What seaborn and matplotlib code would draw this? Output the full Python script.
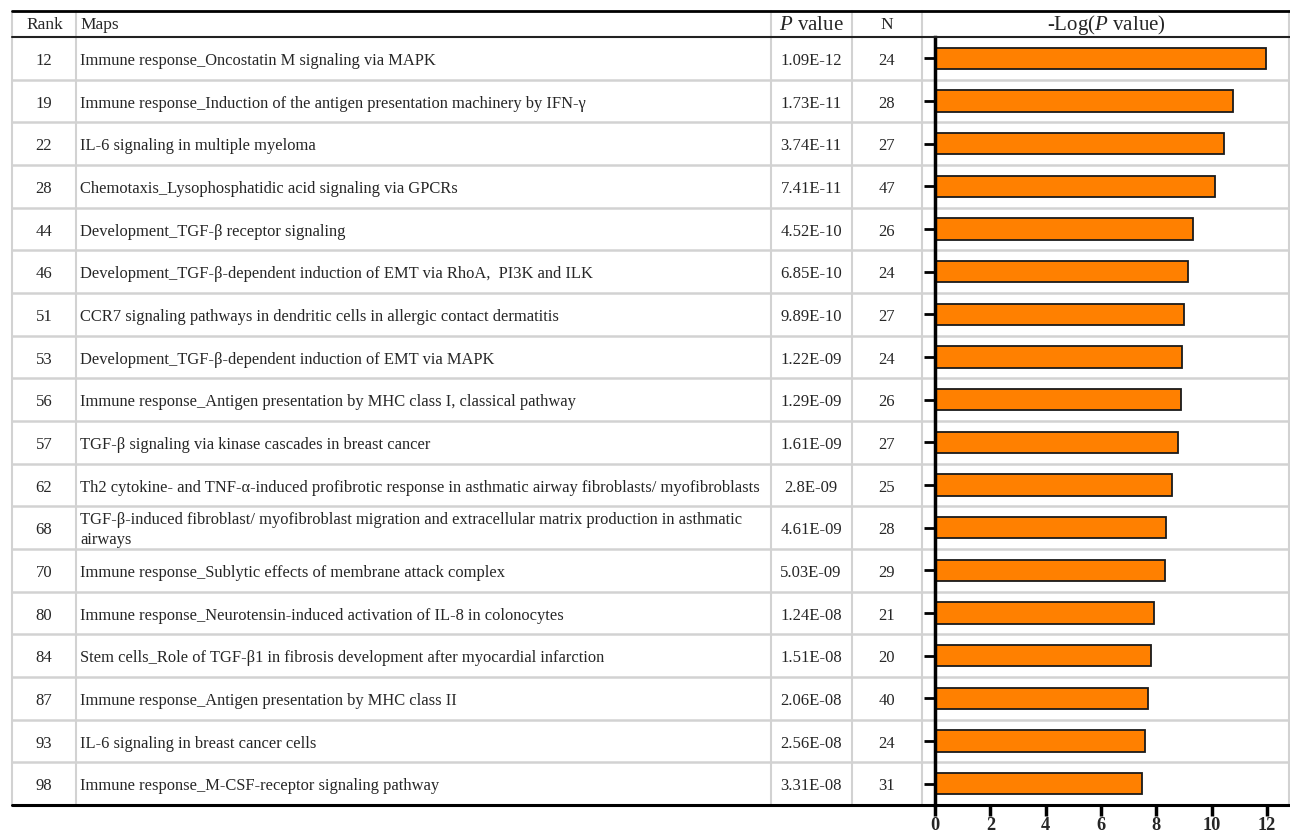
import numpy as np
import pandas as pd
import seaborn as sns
import matplotlib.pyplot as plt
from matplotlib.lines import Line2D

# Данные таблицы
ranks = [12, 19, 22, 28, 44, 46, 51, 53, 56, 57, 62, 68, 70, 80, 84, 87, 93, 98]
maps = [
    "Immune response_Oncostatin M signaling via MAPK",
    "Immune response_Induction of the antigen presentation machinery by IFN-γ",
    "IL-6 signaling in multiple myeloma",
    "Chemotaxis_Lysophosphatidic acid signaling via GPCRs",
    "Development_TGF-β receptor signaling",
    "Development_TGF-β-dependent induction of EMT via RhoA,  PI3K and ILK",
    "CCR7 signaling pathways in dendritic cells in allergic contact dermatitis",
    "Development_TGF-β-dependent induction of EMT via MAPK",
    "Immune response_Antigen presentation by MHC class I, classical pathway",
    "TGF-β signaling via kinase cascades in breast cancer",
    "Th2 cytokine- and TNF-α-induced profibrotic response in asthmatic airway fibroblasts/ myofibroblasts",
    "TGF-β-induced fibroblast/ myofibroblast migration and extracellular matrix production in asthmatic\nairways",
    "Immune response_Sublytic effects of membrane attack complex",
    "Immune response_Neurotensin-induced activation of IL-8 in colonocytes",
    "Stem cells_Role of TGF-β1 in fibrosis development after myocardial infarction",
    "Immune response_Antigen presentation by MHC class II",
    "IL-6 signaling in breast cancer cells",
    "Immune response_M-CSF-receptor signaling pathway",
]
p_values = ["1.09E-12", "1.73E-11", "3.74E-11", "7.41E-11", "4.52E-10", "6.85E-10",
            "9.89E-10", "1.22E-09", "1.29E-09", "1.61E-09", "2.8E-09", "4.61E-09",
            "5.03E-09", "1.24E-08", "1.51E-08", "2.06E-08", "2.56E-08", "3.31E-08"]
n_genes = [24, 28, 27, 47, 26, 24, 27, 24, 26, 27, 25, 28, 29, 21, 20, 40, 24, 31]
neg_log_p = [11.96, 10.76, 10.43, 10.13, 9.34, 9.16, 9.00, 8.91, 8.89, 8.79,
             8.55, 8.34, 8.30, 7.91, 7.82, 7.69, 7.59, 7.48]
x_ticks = [0, 2, 4, 6, 8, 10, 12]

df = pd.DataFrame({'rank': [str(r) for r in ranks], 'val': neg_log_p})

sns.set_style('white')
plt.rcParams['font.family'] = ['Liberation Serif', 'DejaVu Serif']
plt.rcParams['mathtext.fontset'] = 'custom'
plt.rcParams['mathtext.rm'] = 'Liberation Serif'
plt.rcParams['mathtext.it'] = 'Liberation Serif:italic'

W, H = 1290, 834
fig = plt.figure(figsize=(W / 100, H / 100), dpi=100)


def fx(x):
    return x / W


def fy(y):
    return 1 - y / H


# Разметка таблицы (в пикселях)
top, head_bot, bot = 11, 37, 805
row_h = (bot - head_bot) / len(ranks)
col_lines = [12, 76, 771, 852, 922, 1289]
gray = '#d2d2d2'

for x in col_lines:
    fig.add_artist(Line2D([fx(x), fx(x)], [fy(top), fy(bot)], color=gray, lw=1.5, zorder=-1))
for k in range(1, len(ranks)):
    y = head_bot + k * row_h
    fig.add_artist(Line2D([fx(12), fx(1290)], [fy(y), fy(y)], color=gray, lw=1.8, zorder=-1))
fig.add_artist(Line2D([fx(12), fx(1290)], [fy(top), fy(top)], color='black', lw=2))
fig.add_artist(Line2D([fx(12), fx(1290)], [fy(head_bot), fy(head_bot)], color='#222222', lw=1.5))
fig.add_artist(Line2D([fx(12), fx(1290)], [fy(bot), fy(bot)], color='black', lw=2.2))

# Заголовки
hy = fy(25)
fig.text(fx(45), hy, 'Rank', ha='center', va='center', fontsize=12.5)
fig.text(fx(80), hy, 'Maps', ha='left', va='center', fontsize=12.5)
fig.text(fx(811), hy, '$P$ value', ha='center', va='center', fontsize=15)
fig.text(fx(887), hy, 'N', ha='center', va='center', fontsize=12.5)
fig.text(fx(1106), hy, '-Log($P$ value)', ha='center', va='center', fontsize=15)

# Строки
for i in range(len(ranks)):
    yc = fy(head_bot + (i + 0.5) * row_h + 2.5)
    fig.text(fx(44), yc, str(ranks[i]), ha='center', va='center', fontsize=12)
    fig.text(fx(80), yc, maps[i], ha='left', va='center', fontsize=11.85, linespacing=1.32)
    fig.text(fx(811), yc, p_values[i], ha='center', va='center', fontsize=12)
    fig.text(fx(887), yc, str(n_genes[i]), ha='center', va='center', fontsize=12)

# Столбчатая диаграмма
ax = fig.add_axes([fx(935), fy(bot), fx(1290 - 935), (bot - head_bot) / H])
ax.patch.set_visible(False)
sns.barplot(data=df, x='val', y='rank', order=df['rank'], orient='h', color='#ff8000',
            saturation=1, edgecolor='#1a1a1a', linewidth=1.3, width=0.5, ax=ax)
ax.set_xlim(0, 355 / 27.67)
ax.set_ylim(len(ranks) - 0.5, -0.5)
ax.set_xticks(x_ticks)
ax.set_xticklabels([str(t) for t in x_ticks], fontsize=13.2, fontweight='bold')
ax.set_yticklabels([])
ax.set_xlabel('')
ax.set_ylabel('')
for s in ['top', 'right', 'bottom']:
    ax.spines[s].set_visible(False)
ax.spines['left'].set_linewidth(2.5)
ax.spines['left'].set_color('black')
ax.tick_params(axis='x', direction='out', length=8, width=2.5, color='black', pad=0.3, bottom=True)
ax.tick_params(axis='y', direction='out', length=8, width=2, color='black', left=True)

plt.savefig('out.png', dpi=100)
